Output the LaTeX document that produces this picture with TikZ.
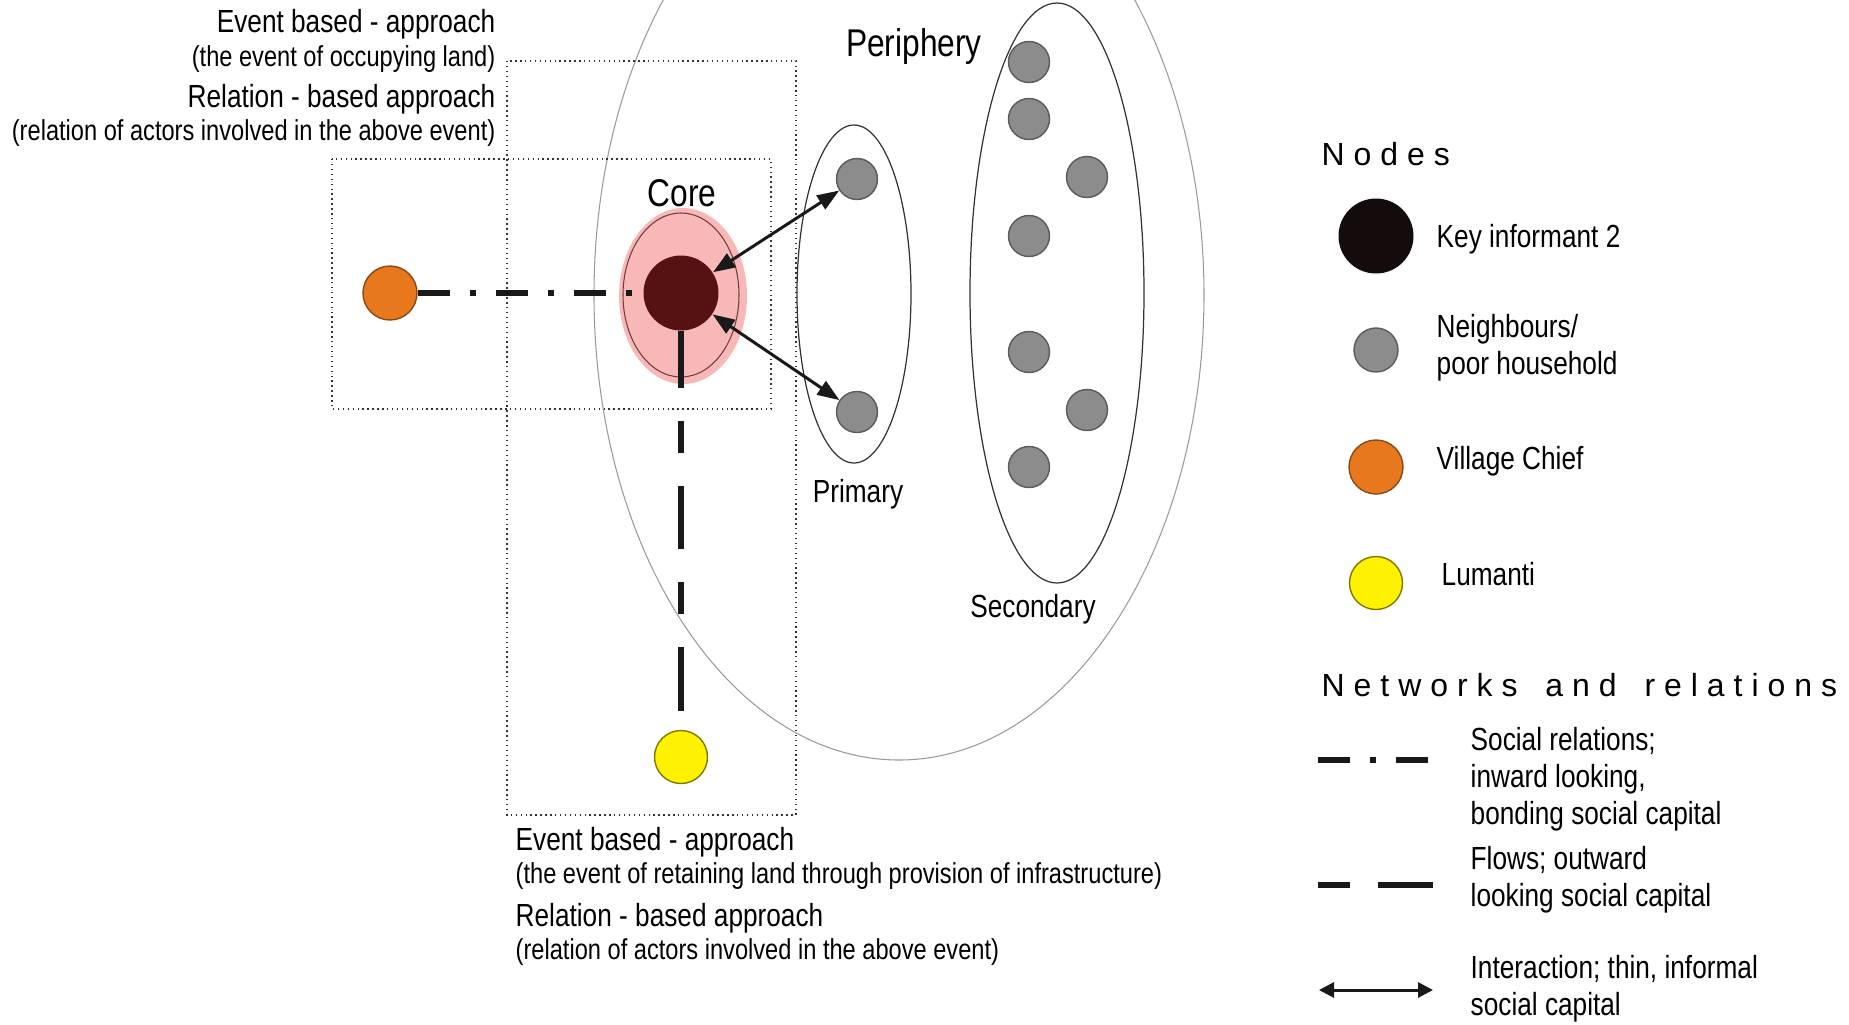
\documentclass[tikz,border=0pt]{standalone}
\usepackage{fontspec}
\setmainfont{Liberation Sans}
\newfontfamily\narrowfont[FakeStretch=0.82]{Liberation Sans}
\usepackage{xcolor}
\definecolor{Col1}{RGB}{86,18,18}
\definecolor{Col2}{RGB}{232,120,30}
\definecolor{Col3}{RGB}{255,242,0}
\definecolor{Col4}{RGB}{140,140,140}
\definecolor{Col5}{RGB}{249,184,184}
\definecolor{Col6}{RGB}{110,60,60}
\definecolor{Col7}{RGB}{20,12,12}
\usepackage{tikz}
\usetikzlibrary{arrows.meta}
\tikzstyle{Key}=[circle,fill=Col1,minimum size=7.5mm,inner sep=0pt]
\tikzstyle{Chief}=[circle,draw=Col2!60!black,fill=Col2,minimum size=5.4mm,
inner sep=0pt,line width=0.4pt]
\tikzstyle{Ngo}=[circle,draw=Col3!50!black,fill=Col3,minimum size=5.3mm,
inner sep=0pt,line width=0.4pt]
\tikzstyle{Nb}=[circle,draw=Col4!65!black,fill=Col4,minimum size=4.1mm,
inner sep=0pt,line width=0.4pt]
\tikzstyle{Frame}=[draw=black!80,densely dotted,line width=0.4pt]
\tikzstyle{Area}=[draw=black!40,line width=0.3pt]
\tikzstyle{Ring}=[draw=black!80,line width=0.35pt]
\tikzstyle{Bond}=[draw=black!90,line width=1.5pt,
dash pattern=on 3.2mm off 2mm on 0.6mm off 2mm]
\tikzstyle{Flow}=[draw=black!90,line width=1.7pt,
dash pattern=on 5.7mm off 3.3mm on 3.2mm off 3.3mm on 6.3mm off 3.3mm
on 3.2mm off 3.3mm on 6.4mm off 5mm]
\tikzstyle{Tie}=[draw=black!90,line width=0.85pt,
{Triangle[length=2.2mm,width=1.6mm]}-{Triangle[length=2.2mm,width=1.6mm]}]
\tikzstyle{Head}=[font=\fontsize{9.1}{11}\selectfont\addfontfeatures{LetterSpace=28},
anchor=west,inner sep=0pt]
\tikzstyle{Label}=[font=\narrowfont\fontsize{9.1}{10.6}\selectfont,inner sep=0pt]
\tikzstyle{Small}=[font=\narrowfont\fontsize{8.2}{9.6}\selectfont,inner sep=0pt]
\tikzstyle{Big}=[font=\narrowfont\fontsize{11}{13}\selectfont,inner sep=0pt]

\begin{document}
\begin{tikzpicture}
    \useasboundingbox(0,0)rectangle(18.49,-10.24);
    % periphery, boxes and circles of contacts
    \draw[Area](8.99,-2.95)ellipse(3.05 and 4.65);
    \draw[Frame](3.32,-1.59)rectangle(7.71,-4.09);
    \draw[Frame](5.07,-0.61)rectangle(7.96,-8.15);
    \draw[Ring](8.54,-2.94)ellipse(0.57 and 1.69);
    \draw[Ring](10.57,-2.93)ellipse(0.87 and 2.90);
    \fill[Col5](6.83,-2.96)ellipse(0.64 and 0.88);
    \draw[Ring,draw=Col6,line width=0.3pt](6.81,-2.95)ellipse(0.58 and 0.82);
    % actors
    \node[Key](k)at(6.81,-2.93){};
    \node[Chief](c)at(3.90,-2.93){};
    \node[Ngo](l)at(6.81,-7.57){};
    \node[Nb](p1)at(8.57,-1.79){};
    \node[Nb](p2)at(8.57,-4.12){};
    \node[Nb](s1)at(10.29,-0.62){};
    \node[Nb](s2)at(10.29,-1.19){};
    \node[Nb](s3)at(10.87,-1.77){};
    \node[Nb](s4)at(10.29,-2.36){};
    \node[Nb](s5)at(10.29,-3.52){};
    \node[Nb](s6)at(10.87,-4.10){};
    \node[Nb](s7)at(10.29,-4.67){};
    % ties
    \draw[Bond](c)--(k);
    \draw[Flow](k)--(l);
    \draw[Tie](k)--(p1);
    \draw[Tie](k)--(p2);
    % labels
    \node[Big](core)at(6.82,-1.93){Core};
    \node[Big](per)at(9.14,-0.46){Periphery};
    \node[Label](pri)at(8.58,-4.94){Primary};
    \node[Label](sec)at(10.33,-6.09){Secondary};
    \node[Label,anchor=east](e1)at(4.96,-0.24){Event based - approach};
    \node[Small,anchor=east](e1n)at(4.96,-0.59){(the event of occupying land)};
    \node[Label,anchor=east](r1)at(4.96,-0.99){Relation - based approach};
    \node[Small,anchor=east](r1n)at(4.96,-1.33)
        {(relation of actors involved in the above event)};
    \node[Label,anchor=west](e2)at(5.15,-8.42){Event based - approach};
    \node[Small,anchor=west](e2n)at(5.15,-8.76)
        {(the event of retaining land through provision of infrastructure)};
    \node[Label,anchor=west](r2)at(5.15,-9.18){Relation - based approach};
    \node[Small,anchor=west](r2n)at(5.15,-9.52)
        {(relation of actors involved in the above event)};
    % legend
    \node[Head](hn)at(13.21,-1.54){Nodes};
    \node[Key,fill=Col7](lk)at(13.76,-2.36){};
    \node[Label,anchor=west](lkt)at(14.36,-2.39){Key informant 2};
    \node[Nb,minimum size=4.4mm](ln)at(13.76,-3.50){};
    \node[Label,anchor=west,align=left](lnt)at(14.36,-3.48)
        {Neighbours/\\poor household};
    \node[Chief](lc)at(13.76,-4.67){};
    \node[Label,anchor=west](lct)at(14.36,-4.61){Village Chief};
    \node[Ngo](ll)at(13.76,-5.83){};
    \node[Label,anchor=west](llt)at(14.41,-5.74){Lumanti};
    \node[Head](hr)at(13.21,-6.85)
        {Networks\hspace{1mm} and\hspace{1mm} relations};
    \coordinate(b1)at(13.18,-7.60);
    \coordinate(b2)at(14.29,-7.60);
    \draw[Bond](b1)--(b2);
    \node[Label,anchor=west,align=left](bt)at(14.70,-7.79)
        {Social relations;\\inward looking,\\bonding social capital};
    \coordinate(f1)at(13.18,-8.85);
    \coordinate(f2)at(14.33,-8.85);
    \draw[Flow,dash pattern=on 3.2mm off 2.8mm on 5.5mm](f1)--(f2);
    \node[Label,anchor=west,align=left](ft)at(14.70,-8.80)
        {Flows; outward\\looking social capital};
    \coordinate(i1)at(13.19,-9.90);
    \coordinate(i2)at(14.33,-9.90);
    \draw[Tie,{Triangle[length=1.5mm,width=1.5mm]}-{Triangle[length=1.5mm,width=1.5mm]}](i1)--(i2);
    \node[Label,anchor=west,align=left](it)at(14.70,-9.89)
        {Interaction; thin, informal\\social capital};
\end{tikzpicture}
\end{document}
